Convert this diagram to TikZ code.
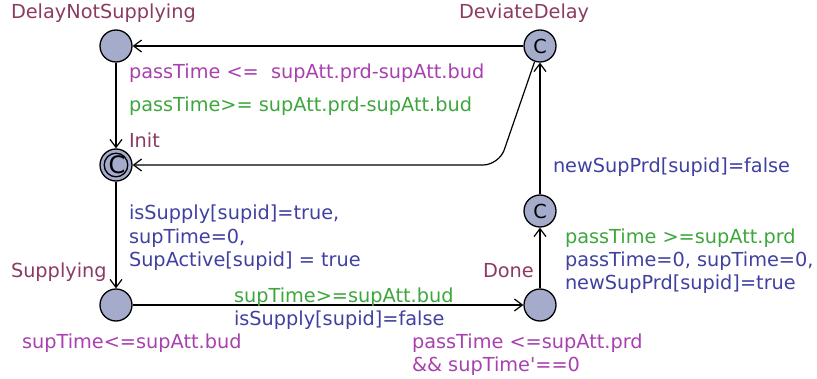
\documentclass[tikz,border=0pt]{standalone}
\usepackage{fontspec}
\setmainfont{DejaVu Sans}
\usetikzlibrary{arrows.meta}
\definecolor{locname}{HTML}{8B3A62}
\definecolor{invcol}{HTML}{A840B0}
\definecolor{guardcol}{HTML}{3DA63D}
\definecolor{assigncol}{HTML}{4040A0}
\definecolor{locfill}{HTML}{A4ABCB}
\tikzset{
  loc/.style={circle, draw=black, line width=0.65pt, fill=locfill, minimum size=16pt, inner sep=0pt},
  lbl/.style={anchor=base west, inner sep=0pt, outer sep=0pt, font=\fontsize{9.65}{11.5}\selectfont},
  cmark/.style={inner sep=0pt, font=\fontsize{9.65}{11.5}\selectfont},
  edge/.style={draw=black, line width=0.6pt, -{Straight Barb[length=4pt,width=6pt]}},
}
\begin{document}
\begin{tikzpicture}[x=0.5pt, y=-0.5pt]
\useasboundingbox (0,0) rectangle (817,379);

% locations
\node[loc] (dns) at (116,46) {};
\node[loc] (dd) at (540,46) {};
\node[cmark] at (dd) {C};
\node[loc] (init) at (116,165) {};
\draw[line width=0.65pt] (init) circle (5.9pt);
\node[cmark, font=\fontsize{12}{12}\selectfont] at (117,165) {C};
\node[loc] (sup) at (116,305) {};
\node[loc] (done) at (540,305) {};
\node[loc] (mid) at (540,211) {};
\node[cmark] at (mid) {C};

% location names
\node[lbl, text=locname] (n1) at (11,19) {DelayNotSupplying};
\node[lbl, text=locname] (n2) at (459,19) {DeviateDelay};
\node[lbl, text=locname] (n3) at (129,148) {Init};
\node[lbl, text=locname] (n4) at (11,277) {Supplying};
\node[lbl, text=locname] (n5) at (483,277) {Done};

% transitions
\coordinate (bend) at (499,165);
\draw[edge] (dd) -- (dns);
\draw[edge] (dns) -- (init);
\draw[edge, rounded corners=8pt] (dd) -- (bend) -- (init);
\draw[edge] (init) -- (sup);
\draw[edge] (sup) -- (done);
\draw[edge] (done) -- (mid);
\draw[edge] (mid) -- (dd);

% invariants, guards and updates
\node[lbl, text=invcol] (i1) at (129,79) {passTime <=\ \ supAtt.prd-supAtt.bud};
\node[lbl, text=guardcol] (g1) at (129,112) {passTime>= supAtt.prd-supAtt.bud};
\node[lbl, text=assigncol] (a1a) at (129,220) {isSupply[supid]=true,};
\node[lbl, text=assigncol] (a1b) at (129,243) {supTime=0,};
\node[lbl, text=assigncol] (a1c) at (129,266) {SupActive[supid] = true};
\node[lbl, text=guardcol] (g2) at (234,302) {supTime>=supAtt.bud};
\node[lbl, text=assigncol] (a2) at (234,325) {isSupply[supid]=false};
\node[lbl, text=invcol] (i2) at (22,348) {supTime<=supAtt.bud};
\node[lbl, text=invcol] (i3a) at (412,348) {passTime <=supAtt.prd};
\node[lbl, text=invcol] (i3b) at (412,371) {\&\& supTime\textquotesingle==0};
\node[lbl, text=assigncol] (a3) at (553,172) {newSupPrd[supid]=false};
\node[lbl, text=guardcol] (g3) at (565,243) {passTime >=supAtt.prd};
\node[lbl, text=assigncol] (a4a) at (565,266) {passTime=0, supTime=0,};
\node[lbl, text=assigncol] (a4b) at (565,289) {newSupPrd[supid]=true};
\end{tikzpicture}
\end{document}
